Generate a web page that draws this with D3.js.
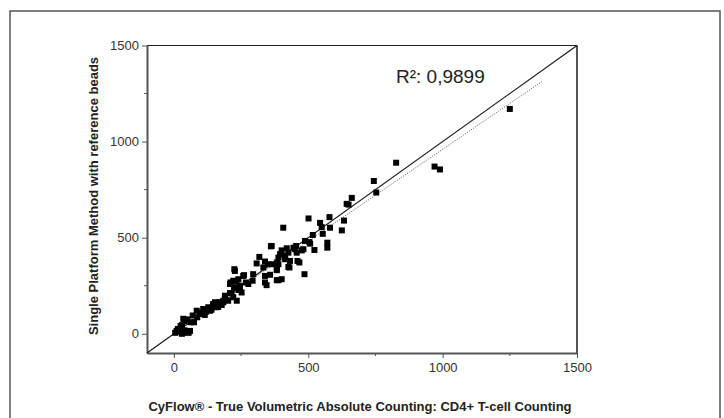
<!DOCTYPE html>
<html>
  <head>
    <meta charset="utf-8">
    <title>CD4 counting</title>
    <script src="https://d3js.org/d3.v7.min.js"></script>
    <style>
      body { margin: 0; background: #fff; }
      text { font-family: "Liberation Sans", Arial, sans-serif; }
    </style>
  </head>
  <body>
    <svg width="724" height="418"></svg>

    <script>
      // CyFlow true volumetric count (x) vs single platform with beads (y)
      const xVals = [5, 10, 20, 30, 35, 40, 15, 25, 45, 60, 55, 40, 50, 62, 30, 70, 85, 87, 97, 109,
        115, 128, 134, 146, 153, 159, 178, 184, 190, 196, 202, 209, 221, 224, 234, 240, 246, 252, 215, 211,
        233, 221, 227, 258, 268, 246, 240, 277, 293, 295, 261, 225, 209, 190, 184, 35, 75, 100, 120, 140,
        165, 170, 308, 318, 333, 339, 351, 339, 339, 345, 361, 364, 383, 370, 389, 383, 383, 389, 383, 358,
        389, 395, 401, 414, 414, 426, 426, 430, 432, 445, 455, 451, 420, 457, 460, 467, 476, 482, 486, 407,
        401, 488, 501, 507, 504, 517, 523, 544, 550, 554, 571, 571, 581, 579, 625, 633, 650, 643, 662, 744,
        753, 827, 970, 990, 1250];
      const yVals = [5, 15, 10, 0, 5, 18, 25, 40, 10, 15, 5, 65, 75, 60, 45, 95, 120, 86, 103, 129,
        98, 138, 120, 155, 164, 138, 150, 172, 185, 176, 172, 212, 190, 241, 172, 228, 236, 215, 210, 267,
        271, 276, 327, 301, 267, 250, 284, 259, 276, 310, 305, 336, 259, 198, 164, 78, 60, 110, 115, 125,
        140, 165, 366, 400, 345, 376, 362, 301, 267, 253, 455, 457, 371, 362, 362, 336, 331, 279, 279, 307,
        396, 414, 434, 405, 388, 422, 348, 345, 379, 448, 457, 440, 445, 422, 379, 371, 434, 440, 310, 552,
        284, 483, 600, 469, 477, 514, 436, 577, 555, 520, 474, 448, 552, 607, 538, 589, 672, 676, 707, 795,
        735, 890, 870, 855, 1170];

      const axisTicks = [0, 500, 1000, 1500];
      const minorTicks = [250, 750, 1250];
      const fitSlope = 0.955, fitIntercept = 5, fitRange = [0, 1370];
      const r2Label = "R\u00b2: 0,9899";

      const svg = d3.select("svg");
      const plotL = 147, plotR = 577, plotT = 45.5, plotB = 353;

      const x = d3.scaleLinear().domain([-100, 1500]).range([plotL, plotR]);
      const y = d3.scaleLinear().domain([-100, 1500]).range([plotB, plotT]);

      // outer frame
      svg.append("rect")
        .attr("x", 10).attr("y", 11)
        .attr("width", 710).attr("height", 430)
        .attr("fill", "none").attr("stroke", "#555").attr("stroke-width", 1.5);

      // box top and right
      svg.append("line")
        .attr("x1", plotL).attr("x2", plotR).attr("y1", plotT).attr("y2", plotT)
        .attr("stroke", "#222").attr("stroke-width", 1.2);
      svg.append("line")
        .attr("x1", plotR).attr("x2", plotR).attr("y1", plotT).attr("y2", plotB)
        .attr("stroke", "#555").attr("stroke-width", 2);

      // axes
      const fmt = d3.format("d");
      const xAxis = svg.append("g")
        .attr("transform", "translate(0," + plotB + ")")
        .call(d3.axisBottom(x).tickValues(axisTicks).tickFormat(fmt).tickSize(5).tickPadding(5).tickSizeOuter(0));
      xAxis.append("g").selectAll("line").data(minorTicks).enter().append("line")
        .attr("x1", d => x(d)).attr("x2", d => x(d)).attr("y1", 0).attr("y2", 3)
        .attr("stroke", "#555");

      const yAxis = svg.append("g")
        .attr("transform", "translate(" + plotL + ",0)")
        .call(d3.axisLeft(y).tickValues(axisTicks).tickFormat(fmt).tickSize(5).tickPadding(3).tickSizeOuter(0));
      yAxis.append("g").selectAll("line").data(minorTicks).enter().append("line")
        .attr("x1", 0).attr("x2", -3).attr("y1", d => y(d)).attr("y2", d => y(d))
        .attr("stroke", "#555");

      svg.selectAll(".domain").attr("stroke", "#555").attr("stroke-width", 2);
      svg.selectAll(".tick line").attr("stroke", "#555");
      svg.selectAll(".tick text")
        .attr("font-size", 13).attr("fill", "#333")
        .attr("font-family", "Liberation Sans, Arial, sans-serif");

      // identity line
      svg.append("line")
        .attr("x1", x(-100)).attr("y1", y(-100))
        .attr("x2", x(1500)).attr("y2", y(1500))
        .attr("stroke", "#111").attr("stroke-width", 1.1);

      // regression line (dotted)
      svg.append("line")
        .attr("x1", x(fitRange[0])).attr("y1", y(fitIntercept + fitSlope * fitRange[0]))
        .attr("x2", x(fitRange[1])).attr("y2", y(fitIntercept + fitSlope * fitRange[1]))
        .attr("stroke", "#555").attr("stroke-width", 1).attr("stroke-dasharray", "1,1.5");

      // points
      const pts = xVals.map((v, i) => [v, yVals[i]]);
      const s = 6;
      svg.append("g").selectAll("rect").data(pts).enter().append("rect")
        .attr("x", d => x(d[0]) - s / 2)
        .attr("y", d => y(d[1]) - s / 2)
        .attr("width", s).attr("height", s)
        .attr("fill", "#000");

      svg.append("text")
        .attr("x", 396).attr("y", 83)
        .attr("font-size", 19).attr("fill", "#222")
        .text(r2Label);

      svg.append("text")
        .attr("x", 360).attr("y", 411)
        .attr("text-anchor", "middle")
        .attr("font-size", 13).attr("font-weight", "bold").attr("fill", "#222")
        .text("CyFlow\u00ae - True Volumetric Absolute Counting: CD4+ T-cell Counting");

      svg.append("text")
        .attr("transform", "translate(98,196) rotate(-90)")
        .attr("text-anchor", "middle")
        .attr("font-size", 13).attr("font-weight", "bold").attr("fill", "#222")
        .text("Single Platform Method with reference beads");
    </script>
  </body>
</html>
